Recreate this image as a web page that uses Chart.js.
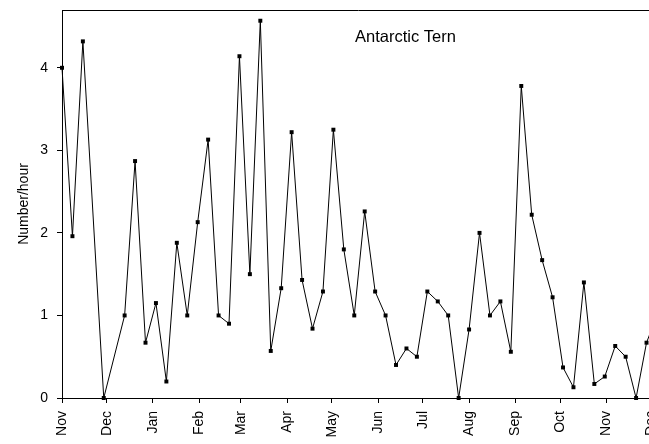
<!DOCTYPE html>
<html>
<head>
<meta charset="utf-8">
<script src="https://cdn.jsdelivr.net/npm/chart.js@4/dist/chart.umd.min.js"></script>
<style>
  html, body { margin: 0; padding: 0; background: #fff; overflow: hidden; }
  #wrap { width: 649px; height: 444px; overflow: hidden; }
</style>
</head>
<body>
<div id="wrap"><canvas id="c" width="655" height="444"></canvas></div>
<script>
// Survey day (days since 1 November) of each weekly count
const surveyDays = [0, 7, 14, 28, 42, 49, 56, 63, 70, 77, 84, 91, 98, 105, 112, 119, 126, 133,
  140, 147, 154, 161, 168, 175, 182, 189, 196, 203, 210, 217, 224, 231, 238, 245, 252, 259,
  266, 273, 280, 287, 294, 301, 308, 315, 322, 329, 336, 343, 350, 357, 364, 371, 378, 385,
  392, 399];
// Antarctic Tern sightings, number per hour
const ternRate = [4.00, 1.96, 4.32, 0.00, 1.00, 2.87, 0.67, 1.15, 0.20, 1.88, 1.00, 2.13, 3.13,
  1.00, 0.90, 4.14, 1.50, 4.57, 0.57, 1.33, 3.22, 1.43, 0.84, 1.29, 3.25, 1.80, 1.00, 2.26,
  1.29, 1.00, 0.40, 0.60, 0.50, 1.29, 1.17, 1.00, 0.00, 0.83, 2.00, 1.00, 1.17, 0.56, 3.78,
  2.22, 1.67, 1.22, 0.37, 0.13, 1.40, 0.17, 0.26, 0.63, 0.50, 0.00, 0.67, 1.00];
// Month boundaries on the day axis and their labels
const monthDays = [0, 30, 61, 92, 120, 151, 181, 212, 242, 273, 304, 334, 365, 395];
const monthLabels = ['Nov', 'Dec', 'Jan', 'Feb', 'Mar', 'Apr', 'May', 'Jun', 'Jul', 'Aug',
  'Sep', 'Oct', 'Nov', 'Dec'];
const yTicks = [0, 1, 2, 3, 4];

const speciesName = 'Antarctic Tern';
const yTitle = 'Number/hour';

Chart.defaults.font.family = "'Liberation Sans', Arial, Helvetica, sans-serif";
Chart.defaults.font.size = 14;
Chart.defaults.color = '#000';

const frame = {
  id: 'frame',
  afterDraw(chart) {
    const { ctx, chartArea } = chart;
    ctx.save();
    // top border of the plot
    ctx.strokeStyle = '#000';
    ctx.lineWidth = 1;
    ctx.beginPath();
    ctx.moveTo(chartArea.left, chartArea.top + 0.5);
    ctx.lineTo(chart.width, chartArea.top + 0.5);
    ctx.stroke();
    // species label inside the plot
    ctx.fillStyle = '#000';
    ctx.font = "16.5px 'Liberation Sans', Arial, sans-serif";
    ctx.textAlign = 'center';
    ctx.textBaseline = 'alphabetic';
    ctx.fillText(speciesName, 405.5, 41.5);
    ctx.restore();
  }
};

new Chart(document.getElementById('c'), {
  type: 'line',
  data: {
    datasets: [{
      data: surveyDays.map((d, i) => ({ x: d, y: ternRate[i] })),
      borderColor: '#000',
      backgroundColor: '#000',
      borderWidth: 1,
      tension: 0,
      pointStyle: 'rect',
      pointRadius: 2.8,
      pointBorderWidth: 0,
      pointBackgroundColor: '#000',
      clip: false
    }]
  },
  options: {
    responsive: false,
    animation: false,
    events: [],
    layout: { padding: { top: 10, right: 0, left: 0, bottom: 0 } },
    plugins: { legend: { display: false }, tooltip: { enabled: false } },
    scales: {
      x: {
        type: 'linear',
        min: 0,
        max: 395,
        afterBuildTicks(scale) { scale.ticks = monthDays.map(v => ({ value: v })); },
        afterFit(scale) { scale.height = 46; scale.paddingLeft = 0; scale.paddingRight = 0; },
        ticks: {
          autoSkip: false,
          minRotation: 90,
          maxRotation: 90,
          padding: 8,
          callback: (v, i) => monthLabels[i]
        },
        grid: { drawOnChartArea: false, drawTicks: true, tickLength: 5, color: '#000' },
        border: { display: true, color: '#000', width: 1 }
      },
      y: {
        min: 0,
        max: 4.7,
        afterBuildTicks(scale) { scale.ticks = yTicks.map(v => ({ value: v })); },
        afterFit(scale) { scale.width = 62; scale.paddingTop = 0; scale.paddingBottom = 0; },
        ticks: { padding: 9, callback: v => String(v) },
        grid: { drawOnChartArea: false, drawTicks: true, tickLength: 5, color: '#000' },
        border: { display: true, color: '#000', width: 1 },
        title: { display: true, text: yTitle, padding: { top: 16, bottom: 0 } }
      }
    }
  },
  plugins: [frame]
});
</script>
</body>
</html>
